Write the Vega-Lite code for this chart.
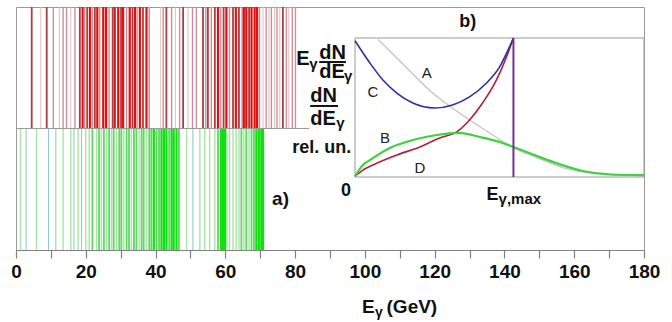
{
  "$schema": "https://vega.github.io/schema/vega-lite/v6.json",
  "width": 628,
  "height": 243,
  "autosize": {"type": "none"},
  "padding": {"left": 16, "top": 7, "right": 28, "bottom": 72},
  "background": "white",
  "config": {"view": {"stroke": "#9a9a9a", "strokeWidth": 1}, "font": "Liberation Sans"},
  "datasets": {
    "red": [
      {"E": 4.5, "level": 2}, {"E": 7.1, "level": 0}, {"E": 8.8, "level": 2}, {"E": 10.7, "level": 1}, {"E": 12.4, "level": 0},
      {"E": 13.5, "level": 1}, {"E": 14.5, "level": 1}, {"E": 15.7, "level": 0}, {"E": 16.9, "level": 1}, {"E": 18.3, "level": 2},
      {"E": 19.1, "level": 3}, {"E": 19.7, "level": 1}, {"E": 20.4, "level": 2}, {"E": 21.2, "level": 3}, {"E": 21.9, "level": 1},
      {"E": 22.6, "level": 2}, {"E": 23.3, "level": 3}, {"E": 24.0, "level": 1}, {"E": 25.0, "level": 3}, {"E": 25.8, "level": 3},
      {"E": 26.7, "level": 1}, {"E": 27.7, "level": 2}, {"E": 28.3, "level": 3}, {"E": 29.3, "level": 3}, {"E": 30.1, "level": 2},
      {"E": 30.7, "level": 3}, {"E": 31.7, "level": 1}, {"E": 32.6, "level": 3}, {"E": 33.4, "level": 2}, {"E": 34.1, "level": 3},
      {"E": 34.7, "level": 1}, {"E": 35.5, "level": 3}, {"E": 36.4, "level": 2}, {"E": 37.4, "level": 3}, {"E": 38.2, "level": 1},
      {"E": 41.5, "level": 0}, {"E": 42.2, "level": 1}, {"E": 43.1, "level": 2}, {"E": 44.6, "level": 1}, {"E": 45.7, "level": 0},
      {"E": 46.9, "level": 1}, {"E": 47.9, "level": 2}, {"E": 49.3, "level": 0}, {"E": 50.6, "level": 1}, {"E": 51.7, "level": 1},
      {"E": 53.6, "level": 2}, {"E": 54.4, "level": 1}, {"E": 55.0, "level": 2}, {"E": 56.0, "level": 1}, {"E": 57.0, "level": 2},
      {"E": 57.9, "level": 3}, {"E": 58.7, "level": 1}, {"E": 59.5, "level": 2}, {"E": 60.3, "level": 3}, {"E": 61.2, "level": 1},
      {"E": 62.2, "level": 2}, {"E": 63.0, "level": 3}, {"E": 63.9, "level": 2}, {"E": 64.8, "level": 1}, {"E": 65.3, "level": 3},
      {"E": 66.0, "level": 3}, {"E": 66.8, "level": 2}, {"E": 67.5, "level": 3}, {"E": 68.4, "level": 3}, {"E": 69.1, "level": 3},
      {"E": 69.8, "level": 1}, {"E": 70.8, "level": 0}, {"E": 71.7, "level": 1}, {"E": 72.5, "level": 0}, {"E": 73.2, "level": 1},
      {"E": 74.1, "level": 0}, {"E": 74.8, "level": 1}, {"E": 75.6, "level": 0}, {"E": 76.5, "level": 2}, {"E": 77.5, "level": 1},
      {"E": 78.2, "level": 0}, {"E": 79.2, "level": 1}, {"E": 80.1, "level": 1}
    ],
    "green": [
      {"E": 1.3, "level": 1}, {"E": 2.9, "level": 0}, {"E": 5.9, "level": 1}, {"E": 9.3, "level": 0}, {"E": 11.4, "level": 1},
      {"E": 13.5, "level": 1}, {"E": 15.7, "level": 1}, {"E": 16.6, "level": 0}, {"E": 17.8, "level": 1}, {"E": 18.8, "level": 0},
      {"E": 20.0, "level": 1}, {"E": 21.0, "level": 1}, {"E": 21.9, "level": 2}, {"E": 23.1, "level": 1}, {"E": 23.8, "level": 2},
      {"E": 24.5, "level": 1}, {"E": 25.2, "level": 2}, {"E": 26.0, "level": 1}, {"E": 26.7, "level": 2}, {"E": 27.4, "level": 1},
      {"E": 28.0, "level": 2}, {"E": 28.8, "level": 1}, {"E": 29.6, "level": 2}, {"E": 30.2, "level": 2}, {"E": 30.9, "level": 1},
      {"E": 31.7, "level": 2}, {"E": 32.4, "level": 2}, {"E": 33.1, "level": 1}, {"E": 33.8, "level": 2}, {"E": 34.5, "level": 2},
      {"E": 35.3, "level": 1}, {"E": 36.0, "level": 2}, {"E": 36.6, "level": 2}, {"E": 37.4, "level": 1}, {"E": 38.2, "level": 2},
      {"E": 38.8, "level": 2}, {"E": 39.5, "level": 3}, {"E": 40.3, "level": 2}, {"E": 41.0, "level": 2}, {"E": 41.7, "level": 3},
      {"E": 42.4, "level": 3}, {"E": 43.1, "level": 3}, {"E": 43.9, "level": 2}, {"E": 44.6, "level": 3}, {"E": 45.2, "level": 3},
      {"E": 46.0, "level": 3}, {"E": 46.7, "level": 2}, {"E": 48.9, "level": 1}, {"E": 50.7, "level": 0}, {"E": 52.7, "level": 1},
      {"E": 54.1, "level": 1}, {"E": 55.5, "level": 1}, {"E": 57.0, "level": 1}, {"E": 57.9, "level": 2}, {"E": 58.8, "level": 3},
      {"E": 59.2, "level": 3}, {"E": 59.6, "level": 3}, {"E": 60.0, "level": 3}, {"E": 61.2, "level": 1}, {"E": 62.2, "level": 1},
      {"E": 63.1, "level": 1}, {"E": 63.9, "level": 1}, {"E": 64.6, "level": 2}, {"E": 65.3, "level": 1}, {"E": 66.0, "level": 2},
      {"E": 66.8, "level": 1}, {"E": 67.5, "level": 2}, {"E": 68.2, "level": 2}, {"E": 68.9, "level": 3}, {"E": 69.6, "level": 3},
      {"E": 70.3, "level": 3}, {"E": 70.8, "level": 3}
    ],
    "mainText": [
      {"t": "a)", "gx": 73.4, "gy": 0.37, "g": "big"},
      {"t": "E", "gx": 99.2, "gy": -0.519, "g": "big"},
      {"t": "(GeV)", "gx": 106.2, "gy": -0.519, "g": "big"},
      {"t": "γ", "gx": 102.9, "gy": -0.551, "g": "sub"}
    ],
    "curves": [
      {"c": "C", "i": 0, "u": 0.0, "v": 0.98}, {"c": "C", "i": 1, "u": 0.094, "v": 0.82}, {"c": "C", "i": 2, "u": 0.176, "v": 0.698},
      {"c": "C", "i": 3, "u": 0.264, "v": 0.604}, {"c": "C", "i": 4, "u": 0.365, "v": 0.532}, {"c": "C", "i": 5, "u": 0.503, "v": 0.496},
      {"c": "C", "i": 6, "u": 0.616, "v": 0.518}, {"c": "C", "i": 7, "u": 0.723, "v": 0.576}, {"c": "C", "i": 8, "u": 0.83, "v": 0.676},
      {"c": "C", "i": 9, "u": 0.912, "v": 0.791}, {"c": "C", "i": 10, "u": 1.0, "v": 1.0},
      {"c": "A", "i": 0, "u": 0.145, "v": 0.99}, {"c": "A", "i": 1, "u": 0.264, "v": 0.856}, {"c": "A", "i": 2, "u": 0.39, "v": 0.712},
      {"c": "A", "i": 3, "u": 0.49, "v": 0.604}, {"c": "A", "i": 4, "u": 0.597, "v": 0.511}, {"c": "A", "i": 5, "u": 0.723, "v": 0.41},
      {"c": "A", "i": 6, "u": 0.849, "v": 0.317}, {"c": "A", "i": 7, "u": 1.0, "v": 0.21}, {"c": "A", "i": 8, "u": 1.145, "v": 0.14},
      {"c": "A", "i": 9, "u": 1.31, "v": 0.068}, {"c": "A", "i": 10, "u": 1.52, "v": 0.024}, {"c": "A", "i": 11, "u": 1.82, "v": 0.005},
      {"c": "B", "i": 0, "u": 0.0, "v": 0.005}, {"c": "B", "i": 1, "u": 0.05, "v": 0.086}, {"c": "B", "i": 2, "u": 0.094, "v": 0.122},
      {"c": "B", "i": 3, "u": 0.22, "v": 0.209}, {"c": "B", "i": 4, "u": 0.365, "v": 0.266}, {"c": "B", "i": 5, "u": 0.516, "v": 0.302},
      {"c": "B", "i": 6, "u": 0.66, "v": 0.317}, {"c": "B", "i": 7, "u": 0.786, "v": 0.288}, {"c": "B", "i": 8, "u": 0.931, "v": 0.245},
      {"c": "B", "i": 9, "u": 1.0, "v": 0.216}, {"c": "B", "i": 10, "u": 1.1, "v": 0.172}, {"c": "B", "i": 11, "u": 1.27, "v": 0.1},
      {"c": "B", "i": 12, "u": 1.43, "v": 0.045}, {"c": "B", "i": 13, "u": 1.62, "v": 0.018}, {"c": "B", "i": 14, "u": 1.824, "v": 0.014},
      {"c": "D", "i": 0, "u": 0.0, "v": 0.005}, {"c": "D", "i": 1, "u": 0.05, "v": 0.05}, {"c": "D", "i": 2, "u": 0.113, "v": 0.086},
      {"c": "D", "i": 3, "u": 0.264, "v": 0.158}, {"c": "D", "i": 4, "u": 0.409, "v": 0.216}, {"c": "D", "i": 5, "u": 0.535, "v": 0.281},
      {"c": "D", "i": 6, "u": 0.642, "v": 0.324}, {"c": "D", "i": 7, "u": 0.723, "v": 0.41}, {"c": "D", "i": 8, "u": 0.805, "v": 0.532},
      {"c": "D", "i": 9, "u": 0.893, "v": 0.698}, {"c": "D", "i": 10, "u": 0.956, "v": 0.863}, {"c": "D", "i": 11, "u": 1.0, "v": 1.0}
    ],
    "bars": [
      {"u": -0.226, "u2": -0.057, "v": 0.827},
      {"u": -0.283, "u2": -0.107, "v": 0.511}
    ],
    "insetText": [
      {"t": "E", "u": -0.371, "v": 0.806, "g": "big"},
      {"t": "dN", "u": -0.226, "v": 0.849, "g": "big"},
      {"t": "dE", "u": -0.226, "v": 0.712, "g": "big"},
      {"t": "dN", "u": -0.283, "v": 0.54, "g": "big"},
      {"t": "dE", "u": -0.283, "v": 0.374, "g": "big"},
      {"t": "γ", "u": -0.289, "v": 0.777, "g": "sub"},
      {"t": "γ", "u": -0.069, "v": 0.691, "g": "sub"},
      {"t": "γ", "u": -0.119, "v": 0.353, "g": "sub"},
      {"t": "rel. un.", "u": -0.396, "v": 0.173, "g": "mid"},
      {"t": "E", "u": 0.83, "v": -0.165, "g": "mid"},
      {"t": "γ,max", "u": 0.906, "v": -0.194, "g": "sub"},
      {"t": "0", "u": -0.057, "v": -0.137, "g": "center"},
      {"t": "b)", "u": 0.711, "v": 1.079, "g": "center"},
      {"t": "A", "u": 0.453, "v": 0.712, "g": "curve"},
      {"t": "C", "u": 0.113, "v": 0.576, "g": "curve"},
      {"t": "B", "u": 0.189, "v": 0.245, "g": "curve"},
      {"t": "D", "u": 0.409, "v": 0.029, "g": "curve"}
    ]
  },
  "layer": [
    {
      "data": {"name": "red"},
      "mark": {"type": "rule"},
      "encoding": {
        "x": {
          "field": "E", "type": "quantitative",
          "scale": {"domain": [0, 180], "nice": false, "zero": false},
          "axis": {
            "orient": "bottom",
            "values": [0, 10, 20, 30, 40, 50, 60, 70, 80, 90, 100, 110, 120, 130, 140, 150, 160, 170, 180],
            "labelExpr": "datum.value % 20 === 0 ? datum.label : ''",
            "title": null, "grid": false,
            "domainColor": "#808080", "domainWidth": 1.2,
            "tickColor": "#808080", "tickWidth": 1.2, "tickSize": 8,
            "labelFont": "Liberation Sans", "labelFontSize": 19, "labelFontWeight": "bold",
            "labelColor": "#111111", "labelPadding": 4, "labelFlush": false, "labelOverlap": false
          }
        },
        "y": {"datum": 1, "type": "quantitative", "scale": {"domain": [0, 2], "nice": false, "zero": false}, "axis": null},
        "y2": {"datum": 2},
        "color": {"field": "level", "type": "ordinal", "scale": {"domain": [0, 1, 2, 3], "range": ["#dcc4b0", "#c890a0", "#a84040", "#e01010"]}, "legend": null},
        "size": {"field": "level", "type": "quantitative", "scale": {"domain": [0, 3], "range": [1.0, 2.2]}, "legend": null}
      }
    },
    {
      "data": {"name": "green"},
      "mark": {"type": "rule"},
      "encoding": {
        "x": {"field": "E", "type": "quantitative", "scale": {"domain": [0, 180], "nice": false, "zero": false}, "axis": null},
        "y": {"datum": 0, "type": "quantitative", "scale": {"domain": [0, 2], "nice": false, "zero": false}, "axis": null},
        "y2": {"datum": 1},
        "color": {"field": "level", "type": "ordinal", "scale": {"domain": [0, 1, 2, 3], "range": ["#88c8c0", "#a8e4a8", "#60d860", "#10e010"]}, "legend": null},
        "size": {"field": "level", "type": "quantitative", "scale": {"domain": [0, 3], "range": [1.0, 2.2]}, "legend": null}
      }
    },
    {
      "data": {"values": [{}]},
      "mark": {"type": "rule", "color": "#9a9a9a", "strokeWidth": 1},
      "encoding": {
        "x": {"datum": 0, "type": "quantitative", "scale": {"domain": [0, 180], "nice": false, "zero": false}, "axis": null},
        "x2": {"datum": 84},
        "y": {"datum": 1, "type": "quantitative", "scale": {"domain": [0, 2], "nice": false, "zero": false}, "axis": null}
      }
    },
    {
      "data": {"name": "mainText"},
      "transform": [{"filter": "datum.g === 'big'"}],
      "mark": {"type": "text", "align": "left", "baseline": "alphabetic", "font": "Liberation Sans", "fontWeight": "bold", "fontSize": 19, "color": "#111111"},
      "encoding": {
        "x": {"field": "gx", "type": "quantitative", "scale": {"domain": [0, 180], "nice": false, "zero": false}, "axis": null},
        "y": {"field": "gy", "type": "quantitative", "scale": {"domain": [0, 2], "nice": false, "zero": false}, "axis": null},
        "text": {"field": "t"}
      }
    },
    {
      "data": {"name": "mainText"},
      "transform": [{"filter": "datum.g === 'sub'"}],
      "mark": {"type": "text", "align": "left", "baseline": "alphabetic", "font": "Liberation Sans", "fontWeight": "bold", "fontSize": 14, "color": "#111111"},
      "encoding": {
        "x": {"field": "gx", "type": "quantitative", "scale": {"domain": [0, 180], "nice": false, "zero": false}, "axis": null},
        "y": {"field": "gy", "type": "quantitative", "scale": {"domain": [0, 2], "nice": false, "zero": false}, "axis": null},
        "text": {"field": "t"}
      }
    },
    {
      "data": {"values": [{}]},
      "mark": {"type": "rect", "fillOpacity": 0, "stroke": "#9a9a9a", "strokeWidth": 1},
      "encoding": {
        "x": {"datum": 0, "type": "quantitative", "scale": {"domain": [0, 1.824], "range": [339, 628], "nice": false, "zero": false}, "axis": null},
        "x2": {"datum": 1.824},
        "y": {"datum": 0, "type": "quantitative", "scale": {"domain": [0, 1], "range": [170, 31], "nice": false, "zero": false}, "axis": null},
        "y2": {"datum": 1}
      }
    },
    {
      "data": {"name": "curves"},
      "transform": [{"filter": "datum.c === 'A'"}],
      "mark": {"type": "line", "color": "#c4c4c4", "strokeWidth": 1.3, "interpolate": "monotone"},
      "encoding": {
        "x": {"field": "u", "type": "quantitative", "scale": {"domain": [0, 1.824], "range": [339, 628], "nice": false, "zero": false}, "axis": null},
        "y": {"field": "v", "type": "quantitative", "scale": {"domain": [0, 1], "range": [170, 31], "nice": false, "zero": false}, "axis": null},
        "order": {"field": "i", "type": "quantitative"}
      }
    },
    {
      "data": {"name": "curves"},
      "transform": [{"filter": "datum.c === 'D'"}],
      "mark": {"type": "line", "color": "#b02038", "strokeWidth": 1.6, "interpolate": "monotone"},
      "encoding": {
        "x": {"field": "u", "type": "quantitative", "scale": {"domain": [0, 1.824], "range": [339, 628], "nice": false, "zero": false}, "axis": null},
        "y": {"field": "v", "type": "quantitative", "scale": {"domain": [0, 1], "range": [170, 31], "nice": false, "zero": false}, "axis": null},
        "order": {"field": "i", "type": "quantitative"}
      }
    },
    {
      "data": {"name": "curves"},
      "transform": [{"filter": "datum.c === 'C'"}],
      "mark": {"type": "line", "color": "#30309a", "strokeWidth": 1.6, "interpolate": "monotone"},
      "encoding": {
        "x": {"field": "u", "type": "quantitative", "scale": {"domain": [0, 1.824], "range": [339, 628], "nice": false, "zero": false}, "axis": null},
        "y": {"field": "v", "type": "quantitative", "scale": {"domain": [0, 1], "range": [170, 31], "nice": false, "zero": false}, "axis": null},
        "order": {"field": "i", "type": "quantitative"}
      }
    },
    {
      "data": {"name": "curves"},
      "transform": [{"filter": "datum.c === 'B'"}],
      "mark": {"type": "line", "color": "#40d040", "strokeWidth": 2.2, "interpolate": "monotone"},
      "encoding": {
        "x": {"field": "u", "type": "quantitative", "scale": {"domain": [0, 1.824], "range": [339, 628], "nice": false, "zero": false}, "axis": null},
        "y": {"field": "v", "type": "quantitative", "scale": {"domain": [0, 1], "range": [170, 31], "nice": false, "zero": false}, "axis": null},
        "order": {"field": "i", "type": "quantitative"}
      }
    },
    {
      "data": {"values": [{}]},
      "mark": {"type": "rule", "color": "#7a2f8f", "strokeWidth": 2},
      "encoding": {
        "x": {"datum": 1, "type": "quantitative", "scale": {"domain": [0, 1.824], "range": [339, 628], "nice": false, "zero": false}, "axis": null},
        "y": {"datum": 0, "type": "quantitative", "scale": {"domain": [0, 1], "range": [170, 31], "nice": false, "zero": false}, "axis": null},
        "y2": {"datum": 1}
      }
    },
    {
      "data": {"name": "bars"},
      "mark": {"type": "rule", "color": "#111111", "strokeWidth": 2},
      "encoding": {
        "x": {"field": "u", "type": "quantitative", "scale": {"domain": [0, 1.824], "range": [339, 628], "nice": false, "zero": false}, "axis": null},
        "x2": {"field": "u2"},
        "y": {"field": "v", "type": "quantitative", "scale": {"domain": [0, 1], "range": [170, 31], "nice": false, "zero": false}, "axis": null}
      }
    },
    {
      "data": {"name": "insetText"},
      "transform": [{"filter": "datum.g === 'big'"}],
      "mark": {"type": "text", "align": "left", "baseline": "alphabetic", "font": "Liberation Sans", "fontWeight": "bold", "fontSize": 20, "color": "#111111"},
      "encoding": {
        "x": {"field": "u", "type": "quantitative", "scale": {"domain": [0, 1.824], "range": [339, 628], "nice": false, "zero": false}, "axis": null},
        "y": {"field": "v", "type": "quantitative", "scale": {"domain": [0, 1], "range": [170, 31], "nice": false, "zero": false}, "axis": null},
        "text": {"field": "t"}
      }
    },
    {
      "data": {"name": "insetText"},
      "transform": [{"filter": "datum.g === 'sub'"}],
      "mark": {"type": "text", "align": "left", "baseline": "alphabetic", "font": "Liberation Sans", "fontWeight": "bold", "fontSize": 15, "color": "#111111"},
      "encoding": {
        "x": {"field": "u", "type": "quantitative", "scale": {"domain": [0, 1.824], "range": [339, 628], "nice": false, "zero": false}, "axis": null},
        "y": {"field": "v", "type": "quantitative", "scale": {"domain": [0, 1], "range": [170, 31], "nice": false, "zero": false}, "axis": null},
        "text": {"field": "t"}
      }
    },
    {
      "data": {"name": "insetText"},
      "transform": [{"filter": "datum.g === 'mid'"}],
      "mark": {"type": "text", "align": "left", "baseline": "alphabetic", "font": "Liberation Sans", "fontWeight": "bold", "fontSize": 18, "color": "#111111"},
      "encoding": {
        "x": {"field": "u", "type": "quantitative", "scale": {"domain": [0, 1.824], "range": [339, 628], "nice": false, "zero": false}, "axis": null},
        "y": {"field": "v", "type": "quantitative", "scale": {"domain": [0, 1], "range": [170, 31], "nice": false, "zero": false}, "axis": null},
        "text": {"field": "t"}
      }
    },
    {
      "data": {"name": "insetText"},
      "transform": [{"filter": "datum.g === 'center'"}],
      "mark": {"type": "text", "align": "center", "baseline": "alphabetic", "font": "Liberation Sans", "fontWeight": "bold", "fontSize": 18, "color": "#111111"},
      "encoding": {
        "x": {"field": "u", "type": "quantitative", "scale": {"domain": [0, 1.824], "range": [339, 628], "nice": false, "zero": false}, "axis": null},
        "y": {"field": "v", "type": "quantitative", "scale": {"domain": [0, 1], "range": [170, 31], "nice": false, "zero": false}, "axis": null},
        "text": {"field": "t"}
      }
    },
    {
      "data": {"name": "insetText"},
      "transform": [{"filter": "datum.g === 'curve'"}],
      "mark": {"type": "text", "align": "center", "baseline": "alphabetic", "font": "Liberation Sans", "fontSize": 15, "color": "#222222"},
      "encoding": {
        "x": {"field": "u", "type": "quantitative", "scale": {"domain": [0, 1.824], "range": [339, 628], "nice": false, "zero": false}, "axis": null},
        "y": {"field": "v", "type": "quantitative", "scale": {"domain": [0, 1], "range": [170, 31], "nice": false, "zero": false}, "axis": null},
        "text": {"field": "t"}
      }
    }
  ],
  "resolve": {"scale": {"x": "independent", "y": "independent", "color": "independent", "size": "independent"}}
}
